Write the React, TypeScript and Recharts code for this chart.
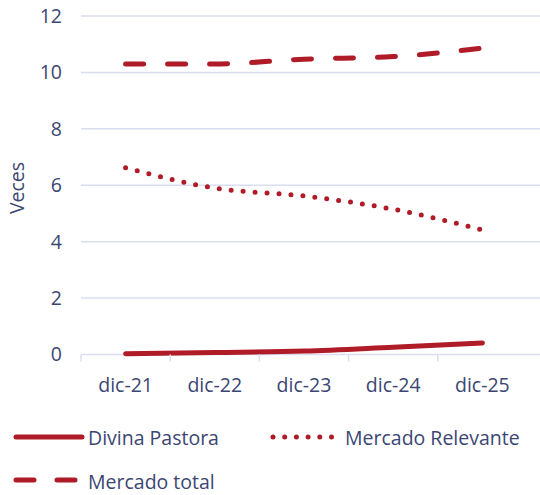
import { CartesianGrid, Line, LineChart, XAxis, YAxis } from "recharts";

const categories = ["dic-21", "dic-22", "dic-23", "dic-24", "dic-25"];
const divinaPastora = [0.03, 0.07, 0.12, 0.26, 0.41];
const mercadoRelevante = [6.62, 5.9, 5.62, 5.15, 4.42];
const mercadoTotal = [10.3, 10.3, 10.47, 10.56, 10.86];
const yTicks = [0, 2, 4, 6, 8, 10, 12];

const RED = "#b01b28";
const TEXT = "#3b4672";
const GRID = "#dadef0";
const FONT = "'Open Sans', 'Noto Sans', sans-serif";
const FS = 19.5;
const BAND = 89.2;

const data = categories.map((c, i) => ({
  cat: c,
  divina: divinaPastora[i],
  relevante: mercadoRelevante[i],
  total: mercadoTotal[i],
}));

function XTick(props: any) {
  const { x, y, payload } = props;
  return (
    <g>
      <line x1={x - BAND / 2} x2={x - BAND / 2} y1={y} y2={y + 7} stroke={GRID} strokeWidth={1.5} />
      <text x={x} y={y + 37.5} textAnchor="middle" fill={TEXT} fontSize={FS} fontFamily={FONT}>
        {payload.value}
      </text>
    </g>
  );
}

function LegendLine({ x, y, len, dash }: { x: number; y: number; len: number; dash?: string }) {
  return (
    <line
      x1={x}
      x2={x + len}
      y1={y}
      y2={y}
      stroke={RED}
      strokeWidth={5}
      strokeLinecap="round"
      strokeDasharray={dash}
    />
  );
}

export default function App() {
  return (
    <div style={{ position: "absolute", left: 0, top: 0, width: 540, height: 495, background: "#fff" }}>
      <LineChart
        width={540}
        height={410}
        data={data}
        margin={{ top: 16, right: 0, left: 0, bottom: 0 }}
      >
        <CartesianGrid horizontal vertical={false} stroke={GRID} strokeWidth={1.5} />
        <XAxis
          dataKey="cat"
          scale="band"
          height={55.5}
          axisLine={false}
          tickLine={false}
          tickSize={0}
          tickMargin={0}
          padding={{ left: 0, right: 13 }}
          tick={<XTick />}
          interval={0}
        />
        <YAxis
          width={81}
          domain={[0, 12]}
          ticks={yTicks}
          axisLine={false}
          tickLine={false}
          tickSize={0}
          tickMargin={19}
          tick={{ fontSize: FS, fill: TEXT, fontFamily: FONT }}
          label={{
            content: () => (
              <text
                transform="translate(24,188) rotate(-90)"
                textAnchor="middle"
                fill={TEXT}
                fontSize={FS}
                fontFamily={FONT}
              >
                Veces
              </text>
            ),
          }}
        />
        <Line
          type="monotone"
          dataKey="divina"
          stroke={RED}
          strokeWidth={5}
          strokeLinecap="round"
          dot={false}
          isAnimationActive={false}
        />
        <Line
          type="monotone"
          dataKey="relevante"
          stroke={RED}
          strokeWidth={5}
          strokeLinecap="round"
          strokeDasharray="0 12"
          dot={false}
          isAnimationActive={false}
        />
        <Line
          type="monotone"
          dataKey="total"
          stroke={RED}
          strokeWidth={5}
          strokeLinecap="round"
          strokeDasharray="18 24"
          dot={false}
          isAnimationActive={false}
        />
      </LineChart>
      <svg width={540} height={85} style={{ position: "absolute", left: 0, top: 410 }}>
        <LegendLine x={16} y={27} len={66} />
        <text x={88} y={35} fill={TEXT} fontSize={FS} fontFamily={FONT}>Divina Pastora</text>
        <LegendLine x={273} y={27} len={60} dash="0 11.7" />
        <text x={345} y={35} fill={TEXT} fontSize={FS} fontFamily={FONT}>Mercado Relevante</text>
        <LegendLine x={16} y={70} len={66} dash="18 23" />
        <text x={88} y={79} fill={TEXT} fontSize={FS} fontFamily={FONT}>Mercado total</text>
      </svg>
    </div>
  );
}
